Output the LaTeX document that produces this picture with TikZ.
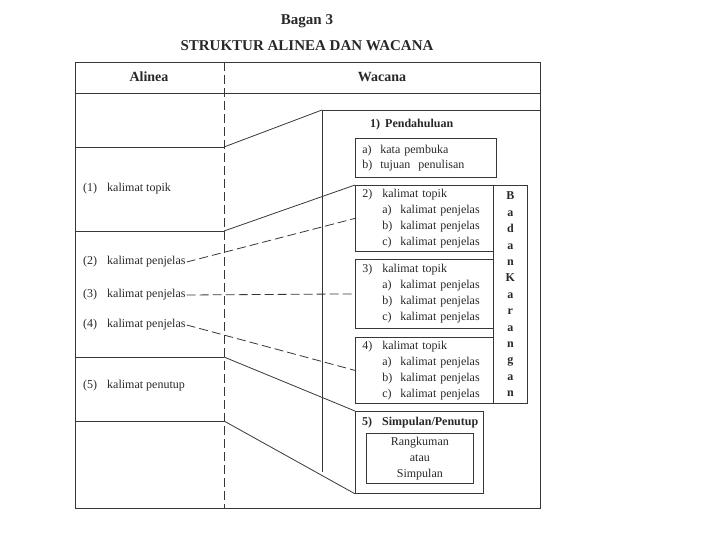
\documentclass[tikz,border=0pt]{standalone}
\usepackage{fontspec}
\setmainfont{Liberation Serif}
\usetikzlibrary{positioning}
\definecolor{garis}{RGB}{55,55,55}
\definecolor{tinta}{RGB}{40,40,40}
\newcommand{\butir}[3]{\makebox[#1][l]{#2}#3}
\newcommand{\isitubuh}[1]{%
  \butir{20pt}{#1)}{kalimat topik}\\
  \hspace*{20pt}\butir{18pt}{a)}{kalimat penjelas}\\
  \hspace*{20pt}\butir{18pt}{b)}{kalimat penjelas}\\
  \hspace*{20pt}\butir{18pt}{c)}{kalimat penjelas}}
\tikzset{
  garisan/.style={draw=garis, line width=0.8pt},
  putus/.style={garisan, dash pattern=on 9pt off 4pt},
  kotak/.style={
    garisan,
    anchor=north west,
    align=left,
    inner xsep=7pt,
    inner ysep=0pt,
    text=tinta
  },
  teks/.style={anchor=west, inner sep=1pt, text=tinta},
  tebal/.style={teks, font=\bfseries\fontsize{12}{16}\selectfont},
  judul/.style={font=\bfseries\fontsize{15}{18}\selectfont, text=tinta},
  kepala/.style={font=\bfseries\fontsize{14}{17}\selectfont, text=tinta}
}

\begin{document}
\begin{tikzpicture}[x=1pt, y=-1pt, font=\fontsize{12}{16}\selectfont]
  \useasboundingbox (0,0) rectangle (720,540);

  % judul
  \node[judul] (bagan) at (307,21) {Bagan 3};
  \node[judul] (struktur) at (307,46) {STRUKTUR ALINEA DAN WACANA};

  % bingkai dan kolom
  \node[draw=garis, line width=0.8pt, anchor=north west, inner sep=0pt,
        minimum width=465pt, minimum height=446pt] (bingkai) at (75,62) {};
  \draw[garisan] (75,93) -- (540,93);
  \draw[putus] (224,62) -- (224,508);
  \node[kepala] (alinea) at (149,77) {Alinea};
  \node[kepala] (wacana) at (382,77) {Wacana};

  % kolom alinea
  \coordinate (batas1) at (224,147);
  \coordinate (batas2) at (224,231);
  \coordinate (batas3) at (224,357);
  \coordinate (batas4) at (224,421);
  \draw[garisan] (75,147) -- (batas1);
  \draw[garisan] (75,231) -- (batas2);
  \draw[garisan] (75,357) -- (batas3);
  \draw[garisan] (75,421) -- (batas4);
  \node[teks] (topik) at (82,189) {\butir{24pt}{(1)}{kalimat topik}};
  \node[teks] (penjelas2) at (82,262) {\butir{24pt}{(2)}{kalimat penjelas}};
  \node[teks] (penjelas3) at (82,295) {\butir{24pt}{(3)}{kalimat penjelas}};
  \node[teks] (penjelas4) at (82,325) {\butir{24pt}{(4)}{kalimat penjelas}};
  \node[teks] (penutup) at (82,386) {\butir{24pt}{(5)}{kalimat penutup}};

  % kolom wacana
  \coordinate (sudut) at (322,110);
  \draw[garisan] (540,110) -- (sudut) -- (322,472);
  \node[tebal] (pendahuluan) at (369,125) {\butir{15pt}{1)}{Pendahuluan}};
  \node[kotak, text width=127pt, minimum height=39pt, font=\fontsize{12}{15}\selectfont]
    (pembuka) at (355,138) {\butir{18pt}{a)}{kata pembuka}\\ \butir{18pt}{b)}{tujuan\ \ penulisan}};
  \node[kotak, text width=124pt, minimum height=66pt] (tubuh2) at (355,185) {\isitubuh{2}};
  \node[kotak, text width=124pt, minimum height=69pt] (tubuh3) at (355,259) {\isitubuh{3}};
  \node[kotak, text width=124pt, minimum height=66pt] (tubuh4) at (355,337) {\isitubuh{4}};
  \node[kotak, inner xsep=0pt, minimum width=34pt, minimum height=218pt, align=center,
        font=\bfseries\fontsize{12}{16.4}\selectfont]
    (badan) at (493,185) {B\\a\\d\\a\\n\\K\\a\\r\\a\\n\\g\\a\\n};
  \node[kotak, minimum width=128pt, minimum height=82pt, inner sep=0pt] (simpulan) at (355,411) {};
  \node[tebal] (judul5) at (361,423) {\butir{20pt}{5)}{Simpulan/Penutup}};
  \node[kotak, inner xsep=0pt, text width=107pt, minimum height=50pt, align=center]
    (rangkuman) at (366,433) {Rangkuman\\atau\\Simpulan};

  % penghubung
  \draw[garisan] (batas1) -- (sudut);
  \draw[garisan] (batas2) -- (tubuh2.north west);
  \draw[putus] (penjelas2.east) -- (tubuh2.west);
  \draw[putus] (penjelas3.east) -- (tubuh3.west);
  \draw[putus] (penjelas4.east) -- (tubuh4.west);
  \draw[garisan] (batas3) -- (simpulan.north west);
  \draw[garisan] (batas4) -- (simpulan.south west);
\end{tikzpicture}
\end{document}
